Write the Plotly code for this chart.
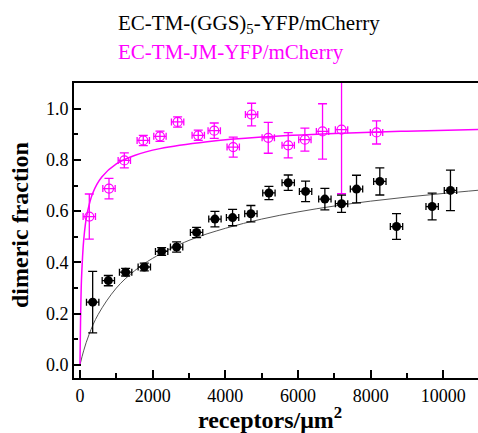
import plotly.graph_objects as go

# ---- data ----
black_x = [349, 780, 1256, 1770, 2247, 2659, 3209, 3714, 4200, 4704, 5200, 5731,
           6209, 6740, 7199, 7611, 8253, 8712, 9693, 10197]
black_y = [0.245, 0.329, 0.362, 0.382, 0.443, 0.460, 0.517, 0.569, 0.575, 0.590,
           0.671, 0.711, 0.677, 0.647, 0.629, 0.686, 0.716, 0.540, 0.618, 0.681]
black_err = [0.12, 0.02, 0.015, 0.015, 0.015, 0.02, 0.02, 0.03, 0.032, 0.032,
             0.026, 0.03, 0.04, 0.042, 0.034, 0.054, 0.053, 0.05, 0.052, 0.079]

mag_x = [256, 798, 1220, 1742, 2201, 2687, 3255, 3695, 4218, 4723, 5182, 5731,
         6190, 6676, 7199, 8162]
mag_y = [0.579, 0.688, 0.798, 0.876, 0.892, 0.948, 0.896, 0.914, 0.850, 0.977,
         0.886, 0.857, 0.879, 0.911, 0.918, 0.907]
mag_err = [0.088, 0.04, 0.029, 0.02, 0.02, 0.02, 0.02, 0.03, 0.039, 0.044,
           0.06, 0.049, 0.045, 0.108, 0.25, 0.045]

x_err = 170

# fitted curves
black_fit_x = [0, 100, 250, 500, 1000, 1500, 2000, 3000, 4000, 5000, 6000, 7000,
               8000, 9000, 10000, 11000]
black_fit_y = [0, 0.055, 0.119, 0.197, 0.300, 0.367, 0.416, 0.486, 0.533, 0.569,
               0.597, 0.620, 0.639, 0.655, 0.669, 0.682]
mag_fit_x = [0, 10, 20, 40, 70, 100, 150, 200, 350, 600, 1000, 1500, 2200, 3500,
             5000, 7000, 9000, 11000]
mag_fit_y = [0, 0.12, 0.21, 0.331, 0.42, 0.484, 0.55, 0.593, 0.670, 0.733, 0.784,
             0.817, 0.844, 0.871, 0.889, 0.903, 0.912, 0.919]

x_ticks = [0, 2000, 4000, 6000, 8000, 10000]
x_ticktext = ["0", "2000", "4000", "6000", "8000", "10000"]
y_ticks = [0.0, 0.2, 0.4, 0.6, 0.8, 1.0]
y_ticktext = ["0.0", "0.2", "0.4", "0.6", "0.8", "1.0"]

BLACK = "#000000"
MAG = "#FF00FF"
FONT = "'Liberation Serif', 'Times New Roman', Times, serif"

L, R, T, B = 74, 0, 83, 55
W, H = 478, 433
PW, PH = W - L - R, H - T - B

fig = go.Figure()
fig.add_trace(go.Scatter(x=black_fit_x, y=black_fit_y, mode="lines",
                         line=dict(color="#555555", width=1, shape="spline"),
                         showlegend=False, hoverinfo="skip"))
fig.add_trace(go.Scatter(x=mag_fit_x, y=mag_fit_y, mode="lines",
                         line=dict(color=MAG, width=1.5, shape="spline"),
                         showlegend=False, hoverinfo="skip"))
fig.add_trace(go.Scatter(
    x=black_x, y=black_y, mode="markers",
    marker=dict(symbol="circle", size=9, color=BLACK),
    error_y=dict(type="data", array=black_err, color=BLACK, thickness=1.3, width=4.5),
    error_x=dict(type="constant", value=x_err, color=BLACK, thickness=1.3, width=3.5),
    showlegend=False))
fig.add_trace(go.Scatter(
    x=mag_x, y=mag_y, mode="markers",
    marker=dict(symbol="circle-open", size=9, color=MAG, line=dict(width=1.2, color=MAG)),
    error_y=dict(type="data", array=mag_err, color=MAG, thickness=1.3, width=4.5),
    error_x=dict(type="constant", value=x_err, color=MAG, thickness=1.3, width=3.5),
    showlegend=False))

fig.update_layout(
    width=W, height=H,
    margin=dict(l=L, r=R, t=T, b=B, autoexpand=False),
    paper_bgcolor="white", plot_bgcolor="white",
    font=dict(family=FONT, color=BLACK),
    xaxis=dict(range=[-165, 10955], tickmode="array", tickvals=x_ticks,
               ticktext=x_ticktext, ticks="inside", ticklen=8,
               tickwidth=2, tickcolor=BLACK, showline=True, linewidth=2,
               linecolor=BLACK, mirror=True, showgrid=False, zeroline=False,
               automargin=False,
               tickfont=dict(family=FONT, size=18, color=BLACK),
               minor=dict(dtick=1000, ticks="inside", ticklen=5, tickwidth=2,
                          tickcolor=BLACK, showgrid=False)),
    yaxis=dict(range=[-0.051, 1.10], tickmode="array", tickvals=y_ticks,
               ticktext=y_ticktext,
               ticks="inside", ticklen=7, tickwidth=2, tickcolor=BLACK,
               showline=True, linewidth=2, linecolor=BLACK, mirror=False,
               showgrid=False, zeroline=False, automargin=False,
               tickfont=dict(family=FONT, size=18, color=BLACK),
               minor=dict(dtick=0.1, ticks="inside", ticklen=4, tickwidth=2,
                          tickcolor=BLACK, showgrid=False)),
)

# axis titles
fig.add_annotation(text="<b>receptors/μm<sup>2</sup></b>", xref="paper", yref="paper",
                   x=(270 - L) / PW, y=(H - B - 418) / PH, xanchor="center",
                   yanchor="middle", showarrow=False,
                   font=dict(family=FONT, size=24, color=BLACK))
fig.add_annotation(text="<b>dimeric fraction</b>", xref="paper", yref="paper",
                   x=(20 - L) / PW, y=(H - B - 225) / PH, xanchor="center",
                   yanchor="middle", textangle=-90, showarrow=False,
                   font=dict(family=FONT, size=24, color=BLACK))

# series labels
fig.add_annotation(text="EC-TM-(GGS)<sub>5</sub>-YFP/mCherry", xref="paper", yref="paper",
                   x=(116 - L) / PW, y=(H - B - 24) / PH, xanchor="left",
                   yanchor="middle", showarrow=False,
                   font=dict(family=FONT, size=21, color=BLACK))
fig.add_annotation(text="EC-TM-JM-YFP/mCherry", xref="paper", yref="paper",
                   x=(116 - L) / PW, y=(H - B - 52) / PH, xanchor="left",
                   yanchor="middle", showarrow=False,
                   font=dict(family=FONT, size=21, color=MAG))

fig.write_html("out.html", config={"displayModeBar": False},
               post_script="document.body.style.margin='0';document.body.style.overflow='hidden';")
